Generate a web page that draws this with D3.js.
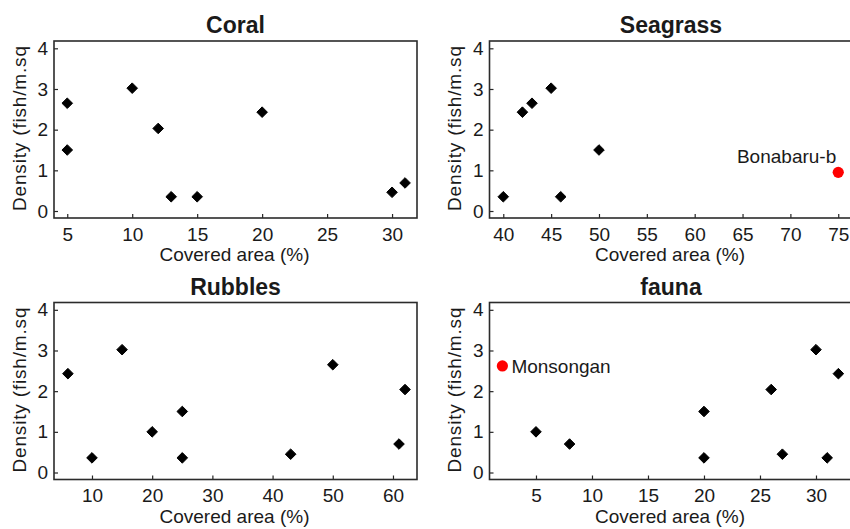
<!DOCTYPE html>
<html>
<head>
<meta charset="utf-8">
<script src="https://cdn.jsdelivr.net/npm/d3@7"></script>
<style>
  body { margin: 0; background: #fff; }
  svg { display: block; }
  text { font-family: "Liberation Sans", Arial, sans-serif; fill: #1a1a1a; }
</style>
</head>
<body>
<svg id="chart" width="850" height="529"></svg>
<script>
// ---- data ----
const yTicks = [0, 1, 2, 3, 4];

const coralX = [5, 5, 10, 12, 13, 15, 20, 30, 31];
const coralY = [2.65, 1.5, 3.02, 2.03, 0.35, 0.35, 2.43, 0.46, 0.69];
const coralTicks = [5, 10, 15, 20, 25, 30];

const seagrassX = [40, 42, 43, 45, 46, 50];
const seagrassY = [0.35, 2.43, 2.65, 3.02, 0.35, 1.5];
const seagrassTicks = [40, 45, 50, 55, 60, 65, 70, 75];
const seagrassHighlight = [{ x: 75, y: 0.95, label: "Bonabaru-b" }];

const rubblesX = [6, 10, 15, 20, 25, 25, 43, 50, 61, 62];
const rubblesY = [2.43, 0.36, 3.02, 1.0, 1.5, 0.36, 0.45, 2.65, 0.7, 2.04];
const rubblesTicks = [10, 20, 30, 40, 50, 60];

const faunaX = [5, 8, 20, 20, 26, 27, 30, 31, 32];
const faunaY = [1.0, 0.7, 1.5, 0.36, 2.04, 0.45, 3.02, 0.36, 2.43];
const faunaTicks = [5, 10, 15, 20, 25, 30];
const faunaHighlight = [{ x: 2, y: 2.62, label: "Monsongan" }];

const xLabel = "Covered area (%)";
const yLabel = "Density (fish/m.sq";

// ---- layout ----
const W = 363, H = 177;
const FS = "19px";
const panels = [
  { title: "Coral",    x0: 54,    y0: 41,    xs: coralX,    ys: coralY,    ticks: coralTicks,    dom: [3.98, 31.92], hl: [], side: "end" },
  { title: "Seagrass", x0: 489.5, y0: 41,    xs: seagrassX, ys: seagrassY, ticks: seagrassTicks, dom: [38.56, 76.49], hl: seagrassHighlight, side: "left" },
  { title: "Rubbles",  x0: 54,    y0: 302.5, xs: rubblesX,  ys: rubblesY,  ticks: rubblesTicks,  dom: [3.69, 63.99], hl: [], side: "end" },
  { title: "fauna",    x0: 489.5, y0: 302.5, xs: faunaX,    ys: faunaY,    ticks: faunaTicks,    dom: [0.85, 33.26], hl: faunaHighlight, side: "right" }
];

const svg = d3.select("#chart");
const diamond = "M0,-5.3L5.3,0L0,5.3L-5.3,0Z";

panels.forEach(p => {
  const g = svg.append("g").attr("transform", `translate(${p.x0},${p.y0})`);
  const x = d3.scaleLinear().domain(p.dom).range([0, W]);
  const y = d3.scaleLinear().domain([-0.172, 4.18]).range([H, 0]);

  // axes (ticks inward)
  const xa = g.append("g").attr("transform", `translate(0,${H})`)
    .call(d3.axisBottom(x).tickValues(p.ticks).tickSizeInner(-4).tickSizeOuter(0).tickPadding(10).tickFormat(d3.format("d")));
  const ya = g.append("g")
    .call(d3.axisLeft(y).tickValues(yTicks).tickSizeInner(-4).tickSizeOuter(0).tickPadding(6).tickFormat(d3.format("d")));
  [xa, ya].forEach(a => {
    a.select(".domain").remove();
    a.selectAll("line").attr("stroke", "#262626").attr("stroke-width", 1.2);
    a.selectAll("text").style("font-size", FS).attr("fill", "#1a1a1a")
      .style("font-family", '"Liberation Sans", Arial, sans-serif');
  });
  xa.selectAll("text").attr("dy", "0.71em").attr("y", 9.5);

  // frame
  g.append("rect").attr("x", 0).attr("y", 0).attr("width", W).attr("height", H)
    .attr("fill", "none").attr("stroke", "#2b2b2b").attr("stroke-width", 1.6);

  // points
  const pts = p.xs.map((v, i) => ({ x: v, y: p.ys[i] }));
  g.selectAll("path.pt").data(pts).join("path")
    .attr("class", "pt")
    .attr("d", diamond)
    .attr("transform", d => `translate(${x(d.x)},${y(d.y)})`)
    .attr("fill", "#000").attr("stroke", "#000").attr("stroke-width", 1).attr("stroke-linejoin", "round");

  // highlighted points
  p.hl.forEach(h => {
    g.append("circle").attr("cx", x(h.x)).attr("cy", y(h.y)).attr("r", 5.6).attr("fill", "#ff0000");
    if (p.side === "left") {
      g.append("text").attr("x", x(h.x) - 2).attr("y", y(h.y) - 9)
        .attr("text-anchor", "end").style("font-size", FS).text(h.label);
    } else {
      g.append("text").attr("x", x(h.x) + 9).attr("y", y(h.y) + 7)
        .attr("text-anchor", "start").style("font-size", FS).text(h.label);
    }
  });

  // title
  g.append("text").attr("x", W / 2).attr("y", -8).attr("text-anchor", "middle")
    .style("font-size", "23px").style("font-weight", "bold").text(p.title);

  // x label
  g.append("text").attr("x", W / 2 - 1).attr("y", H + 43).attr("text-anchor", "middle")
    .style("font-size", FS).text(xLabel);

  // y label
  g.append("text").attr("transform", `translate(${-28.5},${H / 2 - 1}) rotate(-90)`)
    .attr("text-anchor", "middle").style("font-size", FS)
    .attr("textLength", 165).attr("lengthAdjust", "spacing").text(yLabel);
});
</script>
</body>
</html>
